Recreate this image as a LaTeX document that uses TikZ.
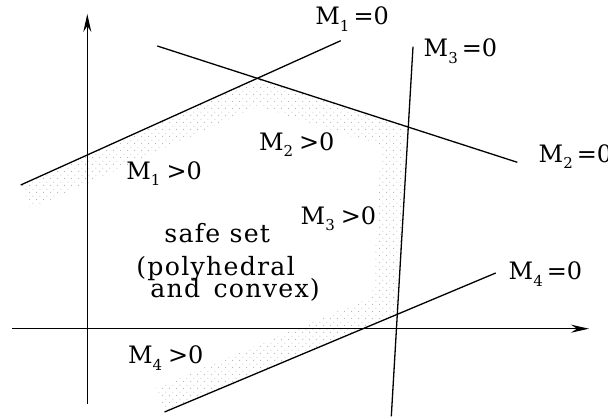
\documentclass[tikz,border=0pt]{standalone}
\usepackage{fontspec}
\newfontfamily\labserif{DejaVu Serif}
\newfontfamily\txtserif[LetterSpace=5]{DejaVu Serif}
\usetikzlibrary{arrows.meta,patterns.meta}
\newcommand\labfont{\labserif\fontsize{12}{14}\selectfont}
\newcommand\Mlab[3]{{\labfont M\raisebox{-3.3pt}{\fontsize{7.5}{9}\selectfont #1}\hspace{#3}#2}}
\tikzdeclarepattern{
  name=sdots,
  type=uncolored,
  bounding box={(0pt,0pt) and (3.6pt,3.6pt)},
  tile size={(3.6pt,3.6pt)},
  code={
    \pgfpathcircle{\pgfpoint{0.9pt}{0.9pt}}{0.28pt}
    \pgfpathcircle{\pgfpoint{2.7pt}{2.7pt}}{0.28pt}
    \pgfusepath{fill}
  }
}
\tikzset{
  txt/.style={anchor=base west, inner sep=0pt, font=\txtserif\fontsize{12.6}{15}\selectfont},
  lab/.style={anchor=base west, inner sep=0pt},
  axis/.style={line width=0.65pt, -{Stealth[length=9pt, width=4pt, inset=3pt]}},
  bound/.style={line width=0.65pt},
  band/.style={pattern=sdots, pattern color=gray!60}
}
\begin{document}
\begin{tikzpicture}[x=0.5pt,y=-0.5pt]
\useasboundingbox (0,0) rectangle (608,417);
% line end points
\coordinate (m1s) at (20.7,185);   \coordinate (m1e) at (340.7,40.7);
\coordinate (m2s) at (157.3,46);   \coordinate (m2e) at (517.3,162.3);
\coordinate (m3s) at (413,46.7);   \coordinate (m3e) at (391.3,416.3);
\coordinate (m4s) at (495.7,273);  \coordinate (m4e) at (164.5,412);
\coordinate (A) at (intersection of m1s--m1e and m2s--m2e);
\coordinate (B) at (intersection of m2s--m2e and m3s--m3e);
\coordinate (C) at (intersection of m3s--m3e and m4s--m4e);
% inner edge of the dotted band
\coordinate (i0) at (30.7,208.7);
\coordinate (iA) at (258.2,106.1);
\coordinate (iB) at (381.2,145.8);
\coordinate (iC) at (372.3,296.8);
\coordinate (i4) at (155.6,388);
\fill[band] (m1s) -- (A) -- (B) -- (C) -- (m4e) -- (i4) -- (iC) -- (iB) -- (iA) -- (i0) -- cycle;
% axes
\coordinate (yb) at (87.3,403.7); \coordinate (yt) at (87.3,14);
\coordinate (xl) at (12,328.7);   \coordinate (xr) at (589,328.7);
\draw[axis] (yb) -- (yt);
\draw[axis] (xl) -- (xr);
% boundary lines
\draw[bound] (m1s) -- (m1e);
\draw[bound] (m2s) -- (m2e);
\draw[bound] (m3s) -- (m3e);
\draw[bound] (m4s) -- (m4e);
% labels
\node[lab] (l1) at (315,25) {\Mlab{1}{=0}{2pt}};
\node[lab] (l3) at (423.3,56.7) {\Mlab{3}{=0}{2pt}};
\node[lab] (l2) at (538.3,162.3) {\Mlab{2}{=0}{2pt}};
\node[lab] (l4) at (508.3,279.7) {\Mlab{4}{=0}{2pt}};
\node[lab] (g1) at (126,179.3) {\Mlab{1}{>0}{3pt}};
\node[lab] (g2) at (258.6,150) {\Mlab{2}{>0}{3pt}};
\node[lab] (g3) at (300.3,224) {\Mlab{3}{>0}{3pt}};
\node[lab] (g4) at (127.6,363.7) {\Mlab{4}{>0}{3pt}};
\node[txt] (t1) at (164,242.7) {safe set};
\node[txt] (t2) at (136,275) {(polyhedral};
\node[txt] (t3) at (150,297) {and\hspace{2pt} convex)};
\end{tikzpicture}
\end{document}
